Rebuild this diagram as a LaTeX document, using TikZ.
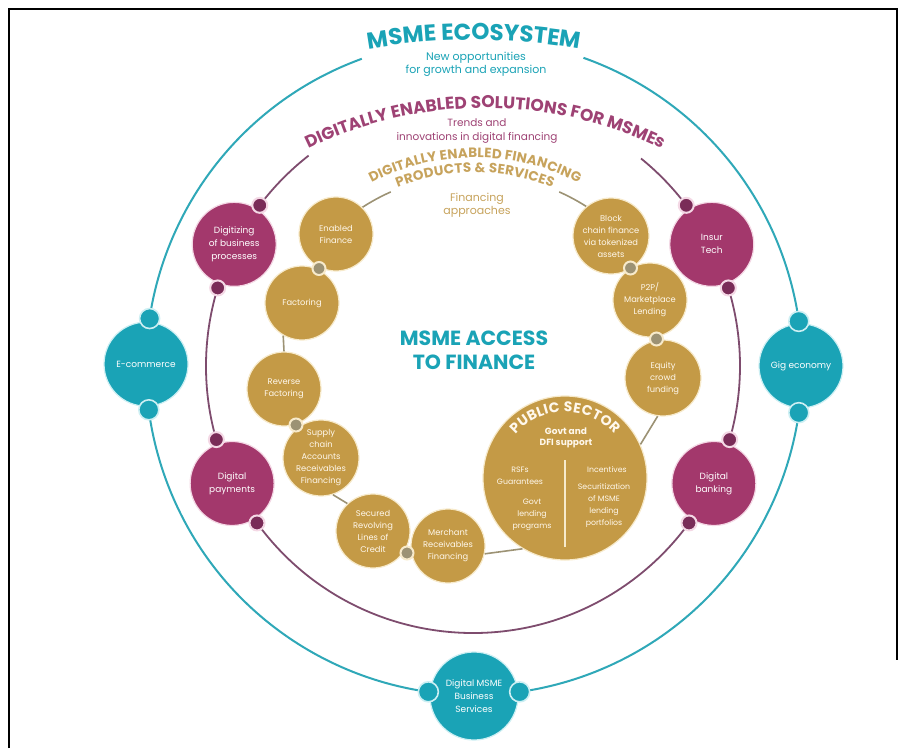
\documentclass[tikz,border=0pt]{standalone}
\usepackage{fontspec}
\setmainfont{Poppins}
\usetikzlibrary{decorations.text,calc}

\definecolor{tealA}{HTML}{1AA3B6}
\definecolor{tealL}{HTML}{2FA8B8}
\definecolor{tealH}{HTML}{CDEFF3}
\definecolor{plumA}{HTML}{A3386C}
\definecolor{plumD}{HTML}{7A2C58}
\definecolor{plumL}{HTML}{7E4C6E}
\definecolor{plumT}{HTML}{9E4274}
\definecolor{plumH}{HTML}{F4D8E5}
\definecolor{goldA}{HTML}{C49A46}
\definecolor{goldT}{HTML}{C7A35C}
\definecolor{goldL}{HTML}{9C9274}
\definecolor{creamH}{HTML}{F7EACB}
\definecolor{nodeText}{HTML}{FFF8EC}

\begin{document}
\begin{tikzpicture}[x=1pt,y=1pt,
  tealnode/.style={circle, fill=tealA, draw=tealH, line width=1.2pt, minimum size=#1,
    inner sep=0pt, text=white, align=center, font=\fontsize{9}{13}\selectfont},
  tealnode/.default=84,
  plumnode/.style={circle, fill=plumA, draw=plumH, line width=1.2pt, minimum size=84,
    inner sep=0pt, text=white, align=center, font=\fontsize{9}{13}\selectfont},
  goldnode/.style={circle, fill=goldA, draw=creamH, line width=1.2pt, minimum size=#1,
    inner sep=0pt, text=nodeText, align=center, font=\fontsize{8.3}{12}\selectfont},
  goldnode/.default=74,
  tealdot/.style={circle, fill=tealA, draw=tealH, line width=1.6pt, minimum size=20, inner sep=0pt},
  plumdot/.style={circle, fill=plumD, draw=plumH, line width=2pt, minimum size=15, inner sep=0pt},
  golddot/.style={circle, fill=goldL, draw=creamH, line width=2pt, minimum size=13, inner sep=0pt},
  tealring/.style={draw=tealL, line width=2pt},
  plumring/.style={draw=plumL, line width=1.8pt},
  goldring/.style={draw=goldL, line width=1.6pt},
  link/.style={draw=goldL, line width=1.6pt},
  sub/.style={align=center, inner sep=0pt},
  pstext/.style={align=center, inner sep=0pt, text=nodeText, font=\fontsize{7.8}{12}\selectfont},
]
\useasboundingbox (0,0) rectangle (906,-748);
\fill[white] (0,0) rectangle (906,-748);

% outer frame
\draw[line width=1.5pt] (9,-748) -- (9,-9) -- (897,-9) -- (897,-660);

% ring centres
\coordinate (OT) at (474,-367);
\coordinate (OP) at (473,-366);
\coordinate (OG) at (475,-381);
\coordinate (OS) at (474,-654);
\coordinate (OD) at (485,-509);

% rings
\draw[tealring] ($(OT)+(110:328)$) arc[start angle=110, end angle=430.5, radius=328];
\draw[plumring] ($(OP)+(128:267)$) arc[start angle=128, end angle=411, radius=267];
\draw[goldring] ($(OG)+(128:207)$) arc[start angle=128, end angle=114, radius=207];
\draw[goldring] ($(OG)+(66:207)$) arc[start angle=66, end angle=52, radius=207];

% curved titles
\path[decorate, decoration={text along path, text align=center, raise=-3pt,
  text={|\fontsize{23}{23}\selectfont\bfseries\color{tealA}|MSME ECOSYSTEM}}]
  ($(OS)+(112:617)$) arc[start angle=112, end angle=68, radius=617];
\path[decorate, decoration={text along path, text align=center, raise=1pt,
  text={|\fontsize{17}{17}\selectfont\bfseries\color{plumT}|DIGITALLY ENABLED SOLUTIONS FOR MSMEs}}]
  ($(OD)+(135:400)$) arc[start angle=135, end angle=45, radius=400];
\path[decorate, decoration={text along path, text align=center, raise=5.5pt,
  text={|\fontsize{13.5}{13.5}\selectfont\bfseries\color{goldT}|DIGITALLY ENABLED FINANCING}}]
  ($(OG)+(130:218)$) arc[start angle=130, end angle=50, radius=218];
\path[decorate, decoration={text along path, text align=center, raise=5.5pt,
  text={|\fontsize{13.5}{13.5}\selectfont\bfseries\color{goldT}|PRODUCTS {\&} SERVICES}}]
  ($(OG)+(114:203)$) arc[start angle=114, end angle=66, radius=203];

% subtitles
\node[sub, text=tealA, font=\fontsize{11}{13}\selectfont] (ecosub) at (476,-64)
  {New opportunities\\for growth and expansion};
\node[sub, text=plumT, font=\fontsize{10.5}{14}\selectfont] (solsub) at (477,-131)
  {Trends and\\innovations in digital financing};
\node[sub, text=goldT, font=\fontsize{11}{13.5}\selectfont] (finsub) at (477,-205)
  {Financing\\approaches};

% centre title
\node[sub, text=tealA, font=\fontsize{20.5}{24}\selectfont\bfseries] (access) at (474,-350)
  {MSME ACCESS\\TO FINANCE};

% ecosystem nodes
\node[tealnode] (ecom) at ($(OT)+(179.5:328)$) {E-commerce};
\node[tealnode] (gig) at ($(OT)+(0.2:327)$) {Gig economy};
\node[tealnode=88] (dmbs) at ($(OT)+(270:329)$) {Digital MSME\\Business\\Services};

\node[tealdot] (e1) at ($(OT)+(171.5:328)$) {};
\node[tealdot] (e2) at ($(OT)+(187.5:328)$) {};
\node[tealdot] (g1) at ($(OT)+(8:328)$) {};
\node[tealdot] (g2) at ($(OT)+(-8:328)$) {};
\node[tealdot] (m1) at ($(OT)+(262:328)$) {};
\node[tealdot] (m2) at ($(OT)+(278:328)$) {};

% digital solution nodes
\node[plumnode] (digz) at ($(OP)+(153:268)$) {Digitizing\\of business\\processes};
\node[plumnode] (insur) at ($(OP)+(27:268)$) {Insur\\Tech};
\node[plumnode] (dpay) at ($(OP)+(206:268)$) {Digital\\payments};
\node[plumnode] (dbank) at ($(OP)+(334:268)$) {Digital\\banking};

\node[plumdot] (p1) at ($(OP)+(143:267)$) {};
\node[plumdot] (p2) at ($(OP)+(163:267)$) {};
\node[plumdot] (p3) at ($(OP)+(37:267)$) {};
\node[plumdot] (p4) at ($(OP)+(17:267)$) {};
\node[plumdot] (p5) at ($(OP)+(196:267)$) {};
\node[plumdot] (p6) at ($(OP)+(216:267)$) {};
\node[plumdot] (p7) at ($(OP)+(344:267)$) {};
\node[plumdot] (p8) at ($(OP)+(324:267)$) {};

% financing product nodes
\node[goldnode] (ef) at (336,-234) {Enabled\\Finance};
\node[goldnode] (fac) at (302,-303) {Factoring};
\node[goldnode] (rf) at (284,-389) {Reverse\\Factoring};
\node[goldnode=76] (sc) at (321,-458) {Supply\\chain\\Accounts\\Receivables\\Financing};
\node[goldnode] (sr) at (373,-531) {Secured\\Revolving\\Lines of\\Credit};
\node[goldnode] (mr) at (448,-546) {Merchant\\Receivables\\Financing};
\node[goldnode=164] (ps) at (565,-478) {};
\node[goldnode=76] (eq) at (663,-378) {Equity\\crowd\\funding};
\node[goldnode] (p2p) at (650,-300) {P2P/\\Marketplace\\Lending};
\node[goldnode=76] (bc) at (611,-236) {Block\\chain finance\\via tokenized\\assets};

% links between financing products
\draw[link] (fac.240) -- (rf.90);
\draw[link] (sc.-72) -- (sr.133);
\draw[link] (mr.-12) -- (ps.239);
\draw[link] (ps.24) -- (eq.262);

\node[golddot] (d1) at ($(ef)!0.5!(fac)$) {};
\node[golddot] (d2) at (296,-425) {};
\node[golddot] (d3) at (407,-553) {};
\node[golddot] (d4) at ($(eq)!0.5!(p2p)$) {};
\node[golddot] (d5) at ($(p2p)!0.5!(bc)$) {};

% public sector content
\path[decorate, decoration={text along path, text align=center, raise=3pt,
  text={|\fontsize{14}{14}\selectfont\bfseries\color{nodeText}|PUBLIC SECTOR}}]
  ($(ps)+(165:63)$) arc[start angle=165, end angle=15, radius=63];
\node[pstext, font=\fontsize{9}{11.5}\selectfont\bfseries] (govt) at (566,-438) {Govt and\\DFI support};
\coordinate (divtop) at (565,-460);
\coordinate (divbot) at (565,-547);
\draw[creamH, line width=1.4pt] (divtop) -- (divbot);
\node[pstext] (rsf) at (520,-476) {RSFs\\Guarantees};
\node[pstext] (gvl) at (532,-515) {Govt\\lending\\programs};
\node[pstext] (inc) at (607,-470) {Incentives};
\node[pstext] (secz) at (604,-506) {Securitization\\of MSME\\lending\\portfolios};

\end{tikzpicture}
\end{document}
